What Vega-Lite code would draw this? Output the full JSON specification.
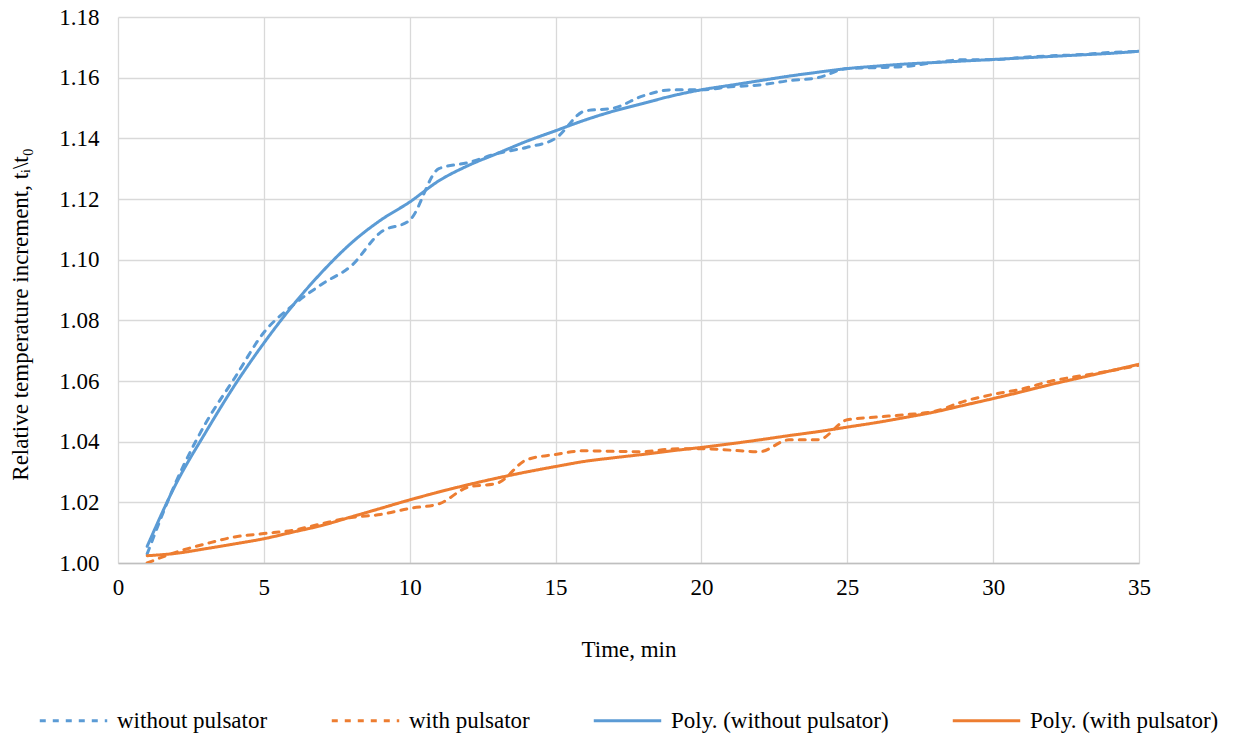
{
  "$schema": "https://vega.github.io/schema/vega-lite/v6.json",
  "autosize": {"type": "none"},
  "width": 1021,
  "height": 546,
  "padding": {"left": 118, "top": 17, "right": 95, "bottom": 174},
  "background": "white",
  "config": {
    "font": "Liberation Serif",
    "view": {"stroke": null}
  },
  "data": {"values": [
    {"t":1,"s":"without pulsator","v":1.003},{"t":2,"s":"without pulsator","v":1.027},{"t":3,"s":"without pulsator","v":1.046},{"t":4,"s":"without pulsator","v":1.061},{"t":5,"s":"without pulsator","v":1.076},{"t":6,"s":"without pulsator","v":1.085},{"t":7,"s":"without pulsator","v":1.092},{"t":8,"s":"without pulsator","v":1.098},{"t":9,"s":"without pulsator","v":1.109},{"t":10,"s":"without pulsator","v":1.113},{"t":11,"s":"without pulsator","v":1.130},{"t":12,"s":"without pulsator","v":1.132},{"t":13,"s":"without pulsator","v":1.135},{"t":14,"s":"without pulsator","v":1.137},{"t":15,"s":"without pulsator","v":1.140},{"t":16,"s":"without pulsator","v":1.149},{"t":17,"s":"without pulsator","v":1.150},{"t":18,"s":"without pulsator","v":1.154},{"t":19,"s":"without pulsator","v":1.156},{"t":20,"s":"without pulsator","v":1.156},{"t":21,"s":"without pulsator","v":1.157},{"t":22,"s":"without pulsator","v":1.1576},{"t":23,"s":"without pulsator","v":1.159},{"t":24,"s":"without pulsator","v":1.160},{"t":25,"s":"without pulsator","v":1.163},{"t":26,"s":"without pulsator","v":1.1633},{"t":27,"s":"without pulsator","v":1.1637},{"t":28,"s":"without pulsator","v":1.165},{"t":29,"s":"without pulsator","v":1.1659},{"t":30,"s":"without pulsator","v":1.1659},{"t":31,"s":"without pulsator","v":1.1667},{"t":32,"s":"without pulsator","v":1.1672},{"t":33,"s":"without pulsator","v":1.1676},{"t":34,"s":"without pulsator","v":1.1683},{"t":35,"s":"without pulsator","v":1.1687},
    {"t":1,"s":"with pulsator","v":1.000},{"t":2,"s":"with pulsator","v":1.0036},{"t":3,"s":"with pulsator","v":1.0063},{"t":4,"s":"with pulsator","v":1.0086},{"t":5,"s":"with pulsator","v":1.0097},{"t":6,"s":"with pulsator","v":1.0108},{"t":7,"s":"with pulsator","v":1.013},{"t":8,"s":"with pulsator","v":1.015},{"t":9,"s":"with pulsator","v":1.016},{"t":10,"s":"with pulsator","v":1.018},{"t":11,"s":"with pulsator","v":1.0195},{"t":12,"s":"with pulsator","v":1.025},{"t":13,"s":"with pulsator","v":1.0263},{"t":14,"s":"with pulsator","v":1.034},{"t":15,"s":"with pulsator","v":1.0358},{"t":16,"s":"with pulsator","v":1.037},{"t":17,"s":"with pulsator","v":1.0368},{"t":18,"s":"with pulsator","v":1.0367},{"t":19,"s":"with pulsator","v":1.0376},{"t":20,"s":"with pulsator","v":1.0377},{"t":21,"s":"with pulsator","v":1.0372},{"t":22,"s":"with pulsator","v":1.0367},{"t":23,"s":"with pulsator","v":1.0406},{"t":24,"s":"with pulsator","v":1.0406},{"t":25,"s":"with pulsator","v":1.0472},{"t":26,"s":"with pulsator","v":1.0481},{"t":27,"s":"with pulsator","v":1.0489},{"t":28,"s":"with pulsator","v":1.050},{"t":29,"s":"with pulsator","v":1.0533},{"t":30,"s":"with pulsator","v":1.0556},{"t":31,"s":"with pulsator","v":1.0574},{"t":32,"s":"with pulsator","v":1.060},{"t":33,"s":"with pulsator","v":1.0617},{"t":34,"s":"with pulsator","v":1.0633},{"t":35,"s":"with pulsator","v":1.0652},
    {"t":1,"s":"Poly. (without pulsator)","v":1.0055},{"t":2,"s":"Poly. (without pulsator)","v":1.0263},{"t":3,"s":"Poly. (without pulsator)","v":1.043},{"t":4,"s":"Poly. (without pulsator)","v":1.0586},{"t":5,"s":"Poly. (without pulsator)","v":1.0725},{"t":6,"s":"Poly. (without pulsator)","v":1.085},{"t":7,"s":"Poly. (without pulsator)","v":1.096},{"t":8,"s":"Poly. (without pulsator)","v":1.1055},{"t":9,"s":"Poly. (without pulsator)","v":1.113},{"t":10,"s":"Poly. (without pulsator)","v":1.119},{"t":11,"s":"Poly. (without pulsator)","v":1.126},{"t":12,"s":"Poly. (without pulsator)","v":1.131},{"t":13,"s":"Poly. (without pulsator)","v":1.135},{"t":14,"s":"Poly. (without pulsator)","v":1.139},{"t":15,"s":"Poly. (without pulsator)","v":1.1425},{"t":16,"s":"Poly. (without pulsator)","v":1.146},{"t":17,"s":"Poly. (without pulsator)","v":1.149},{"t":18,"s":"Poly. (without pulsator)","v":1.1515},{"t":19,"s":"Poly. (without pulsator)","v":1.154},{"t":20,"s":"Poly. (without pulsator)","v":1.156},{"t":21,"s":"Poly. (without pulsator)","v":1.1575},{"t":22,"s":"Poly. (without pulsator)","v":1.159},{"t":23,"s":"Poly. (without pulsator)","v":1.1605},{"t":24,"s":"Poly. (without pulsator)","v":1.1618},{"t":25,"s":"Poly. (without pulsator)","v":1.163},{"t":26,"s":"Poly. (without pulsator)","v":1.1638},{"t":27,"s":"Poly. (without pulsator)","v":1.1645},{"t":28,"s":"Poly. (without pulsator)","v":1.165},{"t":29,"s":"Poly. (without pulsator)","v":1.1655},{"t":30,"s":"Poly. (without pulsator)","v":1.166},{"t":31,"s":"Poly. (without pulsator)","v":1.1665},{"t":32,"s":"Poly. (without pulsator)","v":1.167},{"t":33,"s":"Poly. (without pulsator)","v":1.1675},{"t":34,"s":"Poly. (without pulsator)","v":1.168},{"t":35,"s":"Poly. (without pulsator)","v":1.1687},
    {"t":1,"s":"Poly. (with pulsator)","v":1.0024},{"t":2,"s":"Poly. (with pulsator)","v":1.0032},{"t":3,"s":"Poly. (with pulsator)","v":1.0047},{"t":4,"s":"Poly. (with pulsator)","v":1.0063},{"t":5,"s":"Poly. (with pulsator)","v":1.008},{"t":6,"s":"Poly. (with pulsator)","v":1.0102},{"t":7,"s":"Poly. (with pulsator)","v":1.0124},{"t":8,"s":"Poly. (with pulsator)","v":1.0152},{"t":9,"s":"Poly. (with pulsator)","v":1.018},{"t":10,"s":"Poly. (with pulsator)","v":1.0208},{"t":11,"s":"Poly. (with pulsator)","v":1.0234},{"t":12,"s":"Poly. (with pulsator)","v":1.0258},{"t":13,"s":"Poly. (with pulsator)","v":1.028},{"t":14,"s":"Poly. (with pulsator)","v":1.03},{"t":15,"s":"Poly. (with pulsator)","v":1.0318},{"t":16,"s":"Poly. (with pulsator)","v":1.0335},{"t":17,"s":"Poly. (with pulsator)","v":1.0347},{"t":18,"s":"Poly. (with pulsator)","v":1.0358},{"t":19,"s":"Poly. (with pulsator)","v":1.037},{"t":20,"s":"Poly. (with pulsator)","v":1.0381},{"t":21,"s":"Poly. (with pulsator)","v":1.0393},{"t":22,"s":"Poly. (with pulsator)","v":1.0406},{"t":23,"s":"Poly. (with pulsator)","v":1.042},{"t":24,"s":"Poly. (with pulsator)","v":1.0433},{"t":25,"s":"Poly. (with pulsator)","v":1.0448},{"t":26,"s":"Poly. (with pulsator)","v":1.0463},{"t":27,"s":"Poly. (with pulsator)","v":1.048},{"t":28,"s":"Poly. (with pulsator)","v":1.0498},{"t":29,"s":"Poly. (with pulsator)","v":1.052},{"t":30,"s":"Poly. (with pulsator)","v":1.0542},{"t":31,"s":"Poly. (with pulsator)","v":1.0565},{"t":32,"s":"Poly. (with pulsator)","v":1.0589},{"t":33,"s":"Poly. (with pulsator)","v":1.0611},{"t":34,"s":"Poly. (with pulsator)","v":1.0633},{"t":35,"s":"Poly. (with pulsator)","v":1.0655}
  ]},
  "mark": {"type": "line", "interpolate": "monotone", "strokeWidth": 3, "strokeCap": "round", "strokeJoin": "round", "clip": true},
  "encoding": {
    "x": {
      "field": "t", "type": "quantitative",
      "scale": {"domain": [0, 35], "nice": false, "zero": false},
      "axis": {
        "title": "Time, min",
        "values": [0,5,10,15,20,25,30,35],
        "format": "d",
        "grid": true, "gridColor": "#d9d9d9", "gridWidth": 1.3,
        "domain": true, "domainColor": "#bfbfbf", "domainWidth": 1.3,
        "ticks": false,
        "labelFont": "Liberation Serif", "labelFontSize": 23, "labelColor": "#000000", "labelPadding": 13,
        "labelFlush": false,
        "titleFont": "Liberation Serif", "titleFontSize": 23, "titleFontWeight": "normal", "titleColor": "#000000",
        "titlePadding": 39
      }
    },
    "y": {
      "field": "v", "type": "quantitative",
      "scale": {"domain": [1.0, 1.18], "nice": false, "zero": false},
      "axis": {
        "title": "Relative temperature increment, tᵢ\\t₀",
        "values": [1.0,1.02,1.04,1.06,1.08,1.1,1.12,1.14,1.16,1.18],
        "format": ".2f",
        "grid": true, "gridColor": "#d9d9d9", "gridWidth": 1.3,
        "domain": false,
        "ticks": false,
        "labelFont": "Liberation Serif", "labelFontSize": 23, "labelColor": "#000000", "labelPadding": 19,
        "labelFlush": false,
        "titleFont": "Liberation Serif", "titleFontSize": 23, "titleFontWeight": "normal", "titleColor": "#000000",
        "titleAngle": -90, "titleX": -98, "titleY": 297, "titleBaseline": "middle", "titleAlign": "center"
      }
    },
    "color": {
      "field": "s", "type": "nominal",
      "scale": {
        "domain": ["without pulsator", "with pulsator", "Poly. (without pulsator)", "Poly. (with pulsator)"],
        "range": ["#5B9BD5", "#ED7D31", "#5B9BD5", "#ED7D31"]
      },
      "legend": {
        "title": null,
        "orient": "none",
        "legendX": -80,
        "legendY": 668,
        "padding": 0,
        "direction": "horizontal",
        "columns": 4,
        "columnPadding": 57,
        "symbolType": "stroke",
        "symbolSize": 4550,
        "symbolStrokeWidth": 3,
        "labelFont": "Liberation Serif", "labelFontSize": 23, "labelColor": "#000000",
        "labelOffset": 8,
        "labelLimit": 400
      }
    },
    "strokeDash": {
      "field": "s", "type": "nominal",
      "scale": {
        "domain": ["without pulsator", "with pulsator", "Poly. (without pulsator)", "Poly. (with pulsator)"],
        "range": [[6, 7], [6, 7], [1, 0], [1, 0]]
      },
      "legend": {
        "title": null,
        "orient": "none",
        "legendX": -80,
        "legendY": 668,
        "padding": 0,
        "direction": "horizontal",
        "columns": 4,
        "columnPadding": 57,
        "symbolType": "stroke",
        "symbolSize": 4550,
        "symbolStrokeWidth": 3,
        "labelFont": "Liberation Serif", "labelFontSize": 23, "labelColor": "#000000",
        "labelOffset": 8,
        "labelLimit": 400
      }
    },
    "order": {"field": "t", "type": "quantitative"}
  }
}
